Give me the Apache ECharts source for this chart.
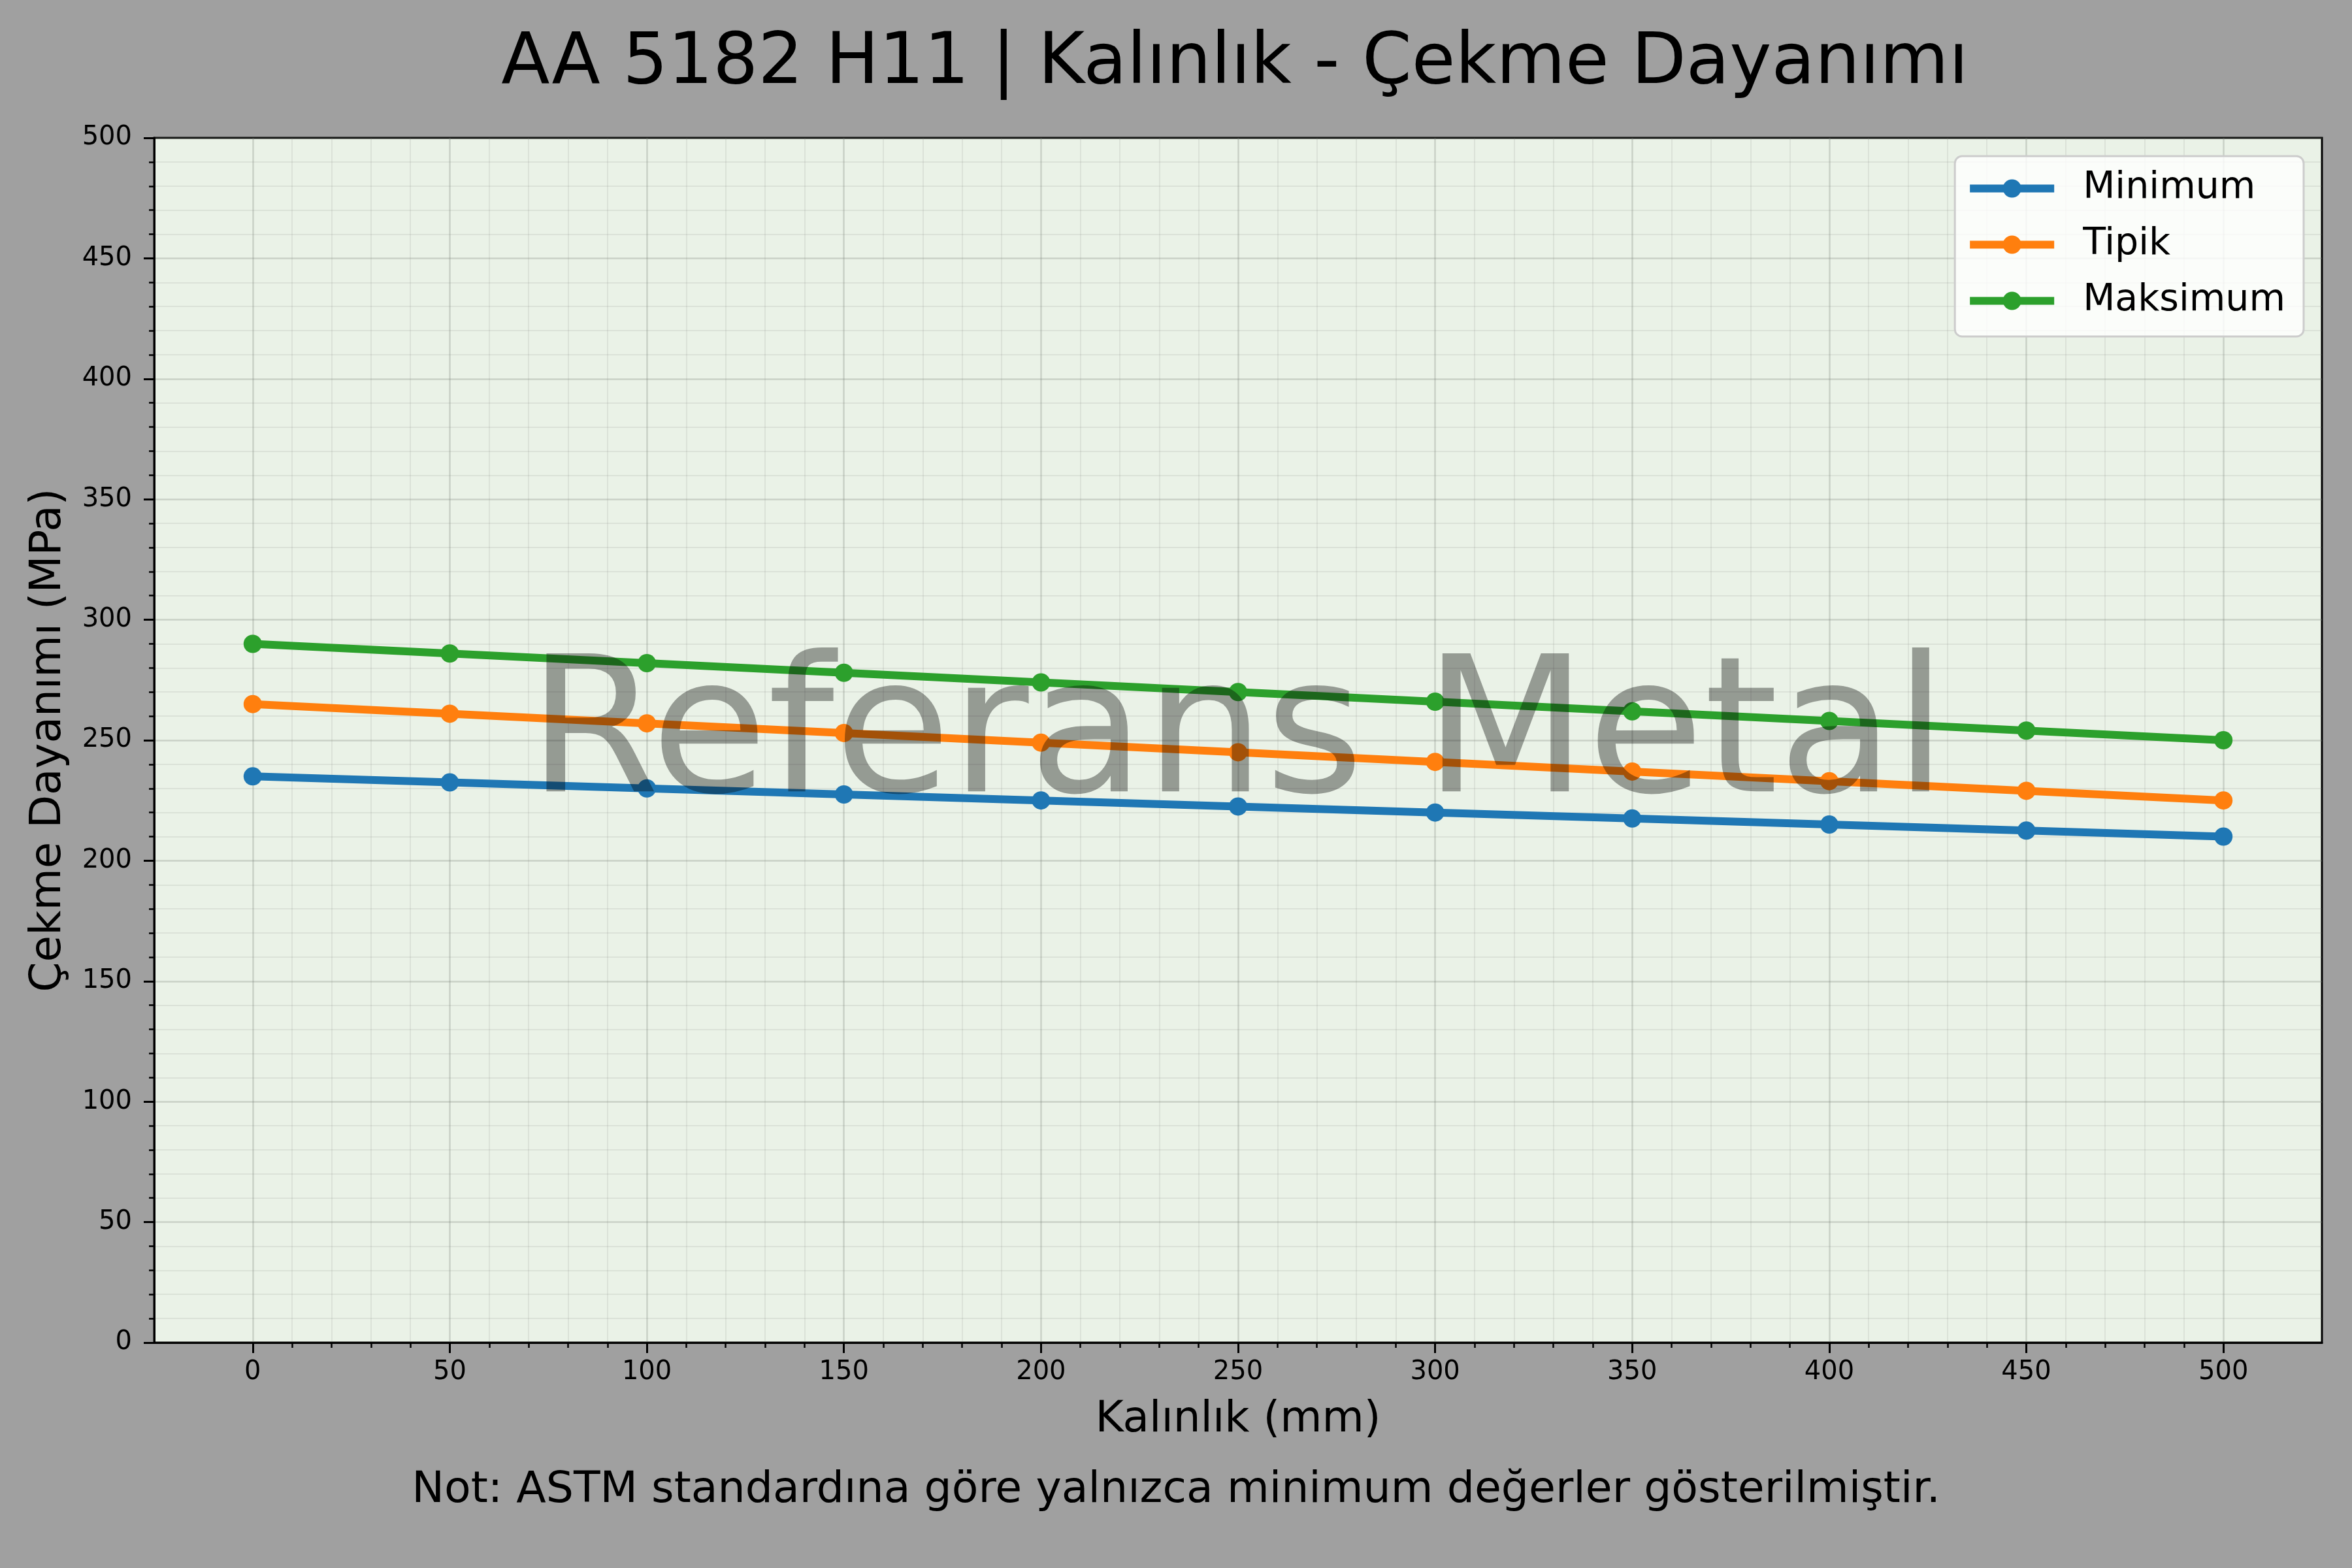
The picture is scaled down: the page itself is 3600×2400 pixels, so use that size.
<!DOCTYPE html>
<html>
<head>
<meta charset="utf-8">
<script src="https://cdn.jsdelivr.net/npm/echarts@6/dist/echarts.min.js"></script>
<style>
html,body{margin:0;padding:0;background:#a0a0a0;}
#chart{width:3600px;height:2400px;}
</style>
</head>
<body>
<div id="chart"></div>
<script>
const thickness = [0, 50, 100, 150, 200, 250, 300, 350, 400, 450, 500];
const minimum = [235, 232.5, 230, 227.5, 225, 222.5, 220, 217.5, 215, 212.5, 210];
const tipik = [265, 261, 257, 253, 249, 245, 241, 237, 233, 229, 225];
const maksimum = [290, 286, 282, 278, 274, 270, 266, 262, 258, 254, 250];
const xMajorTicks = [0, 50, 100, 150, 200, 250, 300, 350, 400, 450, 500];
const xMinorTicks = [10, 20, 30, 40, 60, 70, 80, 90, 110, 120, 130, 140, 160, 170, 180, 190,
  210, 220, 230, 240, 260, 270, 280, 290, 310, 320, 330, 340, 360, 370, 380, 390,
  410, 420, 430, 440, 460, 470, 480, 490];
const seriesNames = ['Minimum', 'Tipik', 'Maksimum'];
const seriesColors = ['#1f77b4', '#ff7f0e', '#2ca02c'];
const titleText = 'AA 5182 H11 | Kalınlık - Çekme Dayanımı';
const xName = 'Kalınlık (mm)';
const yName = 'Çekme Dayanımı (MPa)';
const noteText = 'Not: ASTM standardına göre yalnızca minimum değerler gösterilmiştir.';
const watermarkText = 'Referans Metal';

const FONT = 'DejaVu Sans';
const majorGrid = {color: 'rgba(120,125,115,0.28)', width: 2.5};
const minorGrid = {color: 'rgba(120,125,115,0.13)', width: 2};

const chart = echarts.init(document.getElementById('chart'), null, {renderer: 'canvas'});
const values = [minimum, tipik, maksimum];

const option = {
  backgroundColor: '#a0a0a0',
  animation: false,
  textStyle: {fontFamily: FONT},
  grid: {
    left: 236, top: 211, right: 46, bottom: 345,
    show: true, backgroundColor: '#eaf2e7', borderColor: '#000', borderWidth: 3
  },
  legend: {
    orient: 'vertical',
    right: 74, top: 239,
    padding: [21, 28, 26, 17],
    itemWidth: 129, itemHeight: 35, itemGap: 29,
    backgroundColor: 'rgba(255,255,255,0.8)',
    borderColor: '#cccccc', borderWidth: 3, borderRadius: 11,
    lineStyle: {width: 12},
    textStyle: {fontFamily: FONT, fontSize: 57, color: '#000', lineHeight: 57, padding: [0, 0, 0, 39]},
    data: seriesNames
  },
  xAxis: [{
    type: 'value', min: -25, max: 525, position: 'bottom',
    name: xName, nameLocation: 'middle', nameGap: 86,
    nameTextStyle: {fontFamily: FONT, fontSize: 66, color: '#000'},
    axisLine: {show: true, onZero: false, lineStyle: {color: '#000', width: 3}},
    axisTick: {show: true, length: 16, lineStyle: {color: '#000', width: 3}, customValues: xMajorTicks},
    axisLabel: {show: true, fontFamily: FONT, fontSize: 40, color: '#000', margin: 26, customValues: xMajorTicks},
    splitLine: {show: true, lineStyle: majorGrid}
  }, {
    type: 'value', min: -25, max: 525, position: 'bottom',
    axisLine: {show: false, onZero: false},
    axisTick: {show: true, length: 8, lineStyle: {color: '#000', width: 2.5}, customValues: xMinorTicks},
    axisLabel: {show: false, customValues: xMinorTicks},
    splitLine: {show: true, lineStyle: minorGrid}
  }],
  yAxis: {
    type: 'value', min: 0, max: 500, interval: 50,
    name: yName, nameLocation: 'middle', nameGap: 128, nameRotate: 90,
    nameTextStyle: {fontFamily: FONT, fontSize: 66, color: '#000'},
    axisLine: {show: true, onZero: false, lineStyle: {color: '#000', width: 3}},
    axisTick: {show: true, length: 16, lineStyle: {color: '#000', width: 3}},
    minorTick: {show: true, splitNumber: 5, length: 8, lineStyle: {color: '#000', width: 2.5}},
    axisLabel: {fontFamily: FONT, fontSize: 40, color: '#000', margin: 34},
    splitLine: {show: true, lineStyle: majorGrid},
    minorSplitLine: {show: true, lineStyle: minorGrid}
  },
  series: seriesNames.map((name, k) => ({
    name: name,
    type: 'line',
    xAxisIndex: 0,
    data: thickness.map((x, i) => [x, values[k][i]]),
    symbol: 'circle',
    symbolSize: 28,
    showSymbol: true,
    color: seriesColors[k],
    lineStyle: {width: 12, color: seriesColors[k]},
    itemStyle: {color: seriesColors[k]},
    z: 3 + k
  })),
  graphic: [
    {type: 'text', x: 1890, y: 99, z: 50,
     style: {text: titleText, fontFamily: FONT, fontSize: 108.5, fill: '#000',
             align: 'center', verticalAlign: 'middle', textAlign: 'center', textVerticalAlign: 'middle'}},
    {type: 'text', x: 1800, y: 2282, z: 50,
     style: {text: noteText, fontFamily: FONT, fontSize: 66.5, fill: '#000',
             align: 'center', verticalAlign: 'middle', textAlign: 'center', textVerticalAlign: 'middle'}},
    {type: 'text', x: 1894, y: 1136, z: 100,
     style: {text: watermarkText, fontFamily: FONT, fontSize: 290, fill: 'rgba(0,0,0,0.36)',
             align: 'center', verticalAlign: 'middle', textAlign: 'center', textVerticalAlign: 'middle'}}
  ]
};
chart.setOption(option);
</script>
</body>
</html>
